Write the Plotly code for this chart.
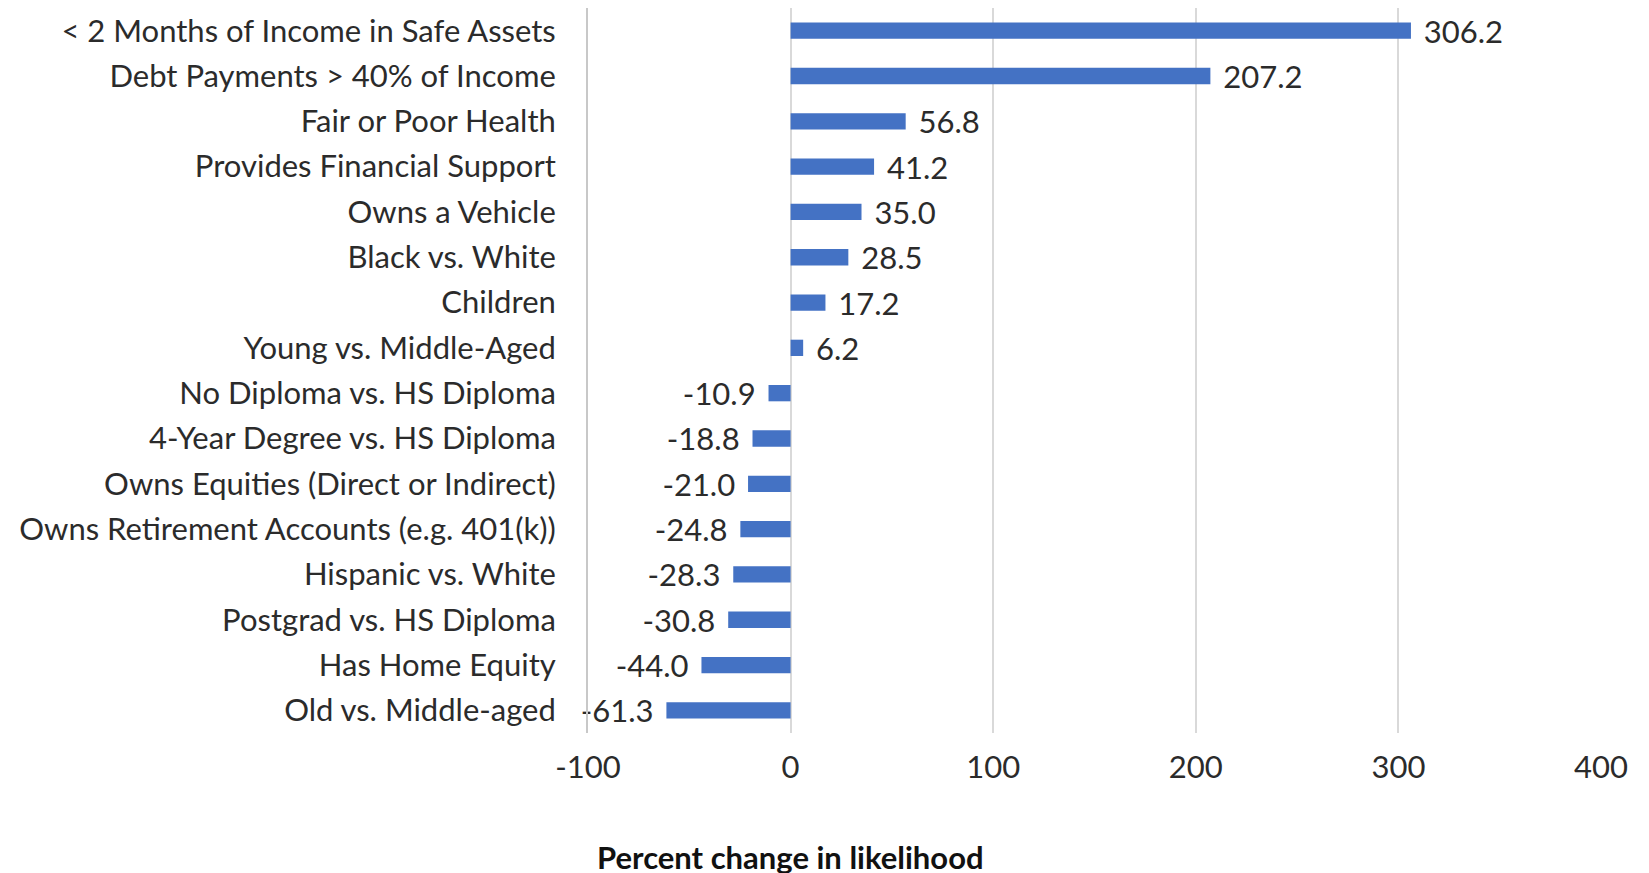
import plotly.graph_objects as go

# categories top to bottom
categories = [
    "< 2 Months of Income in Safe Assets",
    "Debt Payments > 40% of Income",
    "Fair or Poor Health",
    "Provides Financial Support",
    "Owns a Vehicle",
    "Black vs. White",
    "Children",
    "Young vs. Middle-Aged",
    "No Diploma vs. HS Diploma",
    "4-Year Degree vs. HS Diploma",
    "Owns Equities (Direct or Indirect)",
    "Owns Retirement Accounts (e.g. 401(k))",
    "Hispanic vs. White",
    "Postgrad vs. HS Diploma",
    "Has Home Equity",
    "Old vs. Middle-aged",
]
pct_change = [306.2, 207.2, 56.8, 41.2, 35.0, 28.5, 17.2, 6.2,
              -10.9, -18.8, -21.0, -24.8, -28.3, -30.8, -44.0, -61.3]
x_ticks = [-100, 0, 100, 200, 300, 400]

FONT = "Lato"
TXT = "#2b2b2b"
SIZE = 31

# pad labels away from the bar end
pad = "\u00a0\u200a"
labels = []
for v in pct_change:
    if v >= 0:
        labels.append(pad + "%.1f" % v)
    else:
        labels.append("%.1f" % v + pad)

fig = go.Figure(go.Bar(
    x=pct_change,
    y=categories,
    orientation="h",
    marker=dict(color="#4472C4", line=dict(width=0)),
    text=labels,
    textposition="outside",
    constraintext="none",
    textfont=dict(family=FONT, size=SIZE, color=TXT),
    cliponaxis=False,
))

fig.update_layout(
    width=1649, height=873,
    margin=dict(l=580, r=56, t=0, b=148),
    plot_bgcolor="white", paper_bgcolor="white",
    bargap=0.64,
    showlegend=False,
    font=dict(family=FONT, size=SIZE, color=TXT),
    xaxis=dict(
        range=[-100, 400],
        tickvals=x_ticks,
        ticktext=[str(t) for t in x_ticks],
        showgrid=True, gridcolor="#D9D9D9", gridwidth=2,
        zeroline=False,
        automargin=False,
        ticklabelstandoff=13,
        tickfont=dict(family=FONT, size=SIZE, color=TXT),
    ),
    yaxis=dict(
        autorange="reversed",
        showline=True, linecolor="#C8C8C8", linewidth=2,
        automargin=False,
        ticklabelstandoff=24,
        tickfont=dict(family=FONT, size=SIZE, color=TXT),
    ),
    annotations=[dict(
        text="<b>Percent change in likelihood</b>",
        xref="x", yref="paper", x=0, y=0,
        yshift=-124, yanchor="middle", xanchor="center",
        showarrow=False,
        font=dict(family=FONT, size=31, color="#111111"),
    )],
)

fig.write_html("out.html")
